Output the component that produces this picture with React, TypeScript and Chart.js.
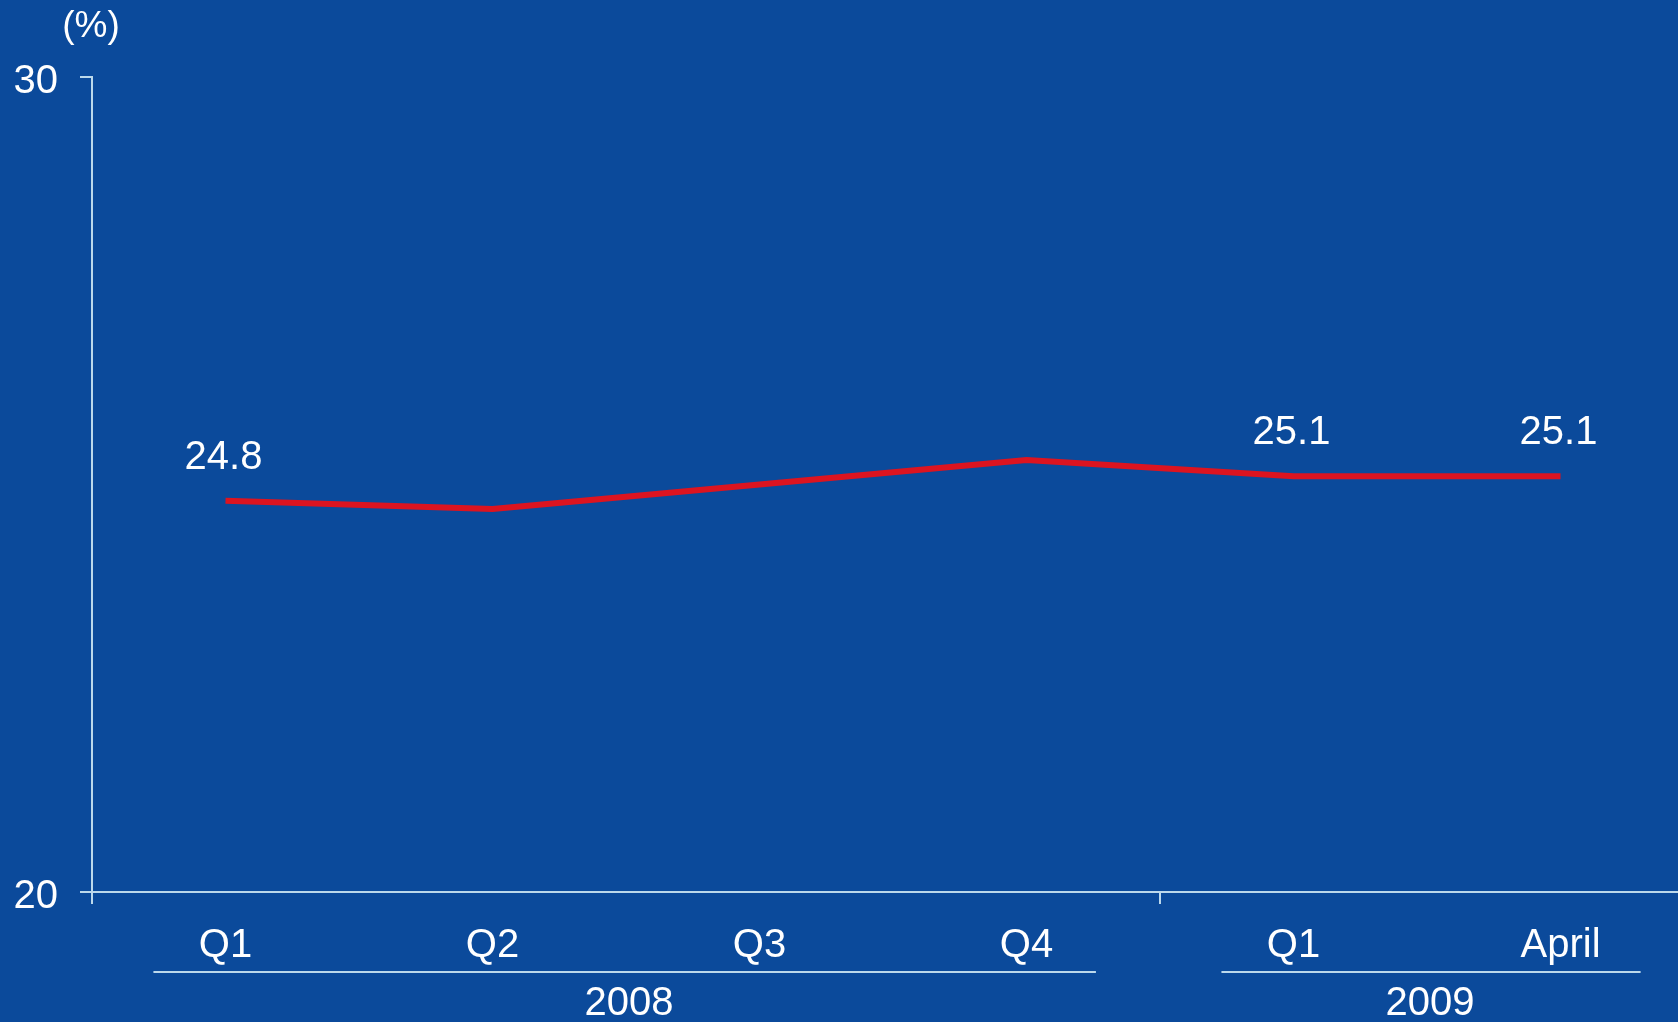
import React, { useEffect, useRef } from "react";
import { Chart, registerables } from "chart.js";

Chart.register(...registerables);

// Quarterly share (%), 2008 Q1 through April 2009
const categories = ["Q1", "Q2", "Q3", "Q4", "Q1", "April"];
const shareValues = [24.8, 24.7, 25.0, 25.3, 25.1, 25.1];
// Points that carry a value label
const labelledPoints = [0, 4, 5];
// Year groups under the category labels (first / last category index)
const yearGroups = [
  { label: "2008", first: 0, last: 3 },
  { label: "2009", first: 4, last: 5 },
];
// Category boundaries that get a tick mark on the x axis
const boundaryTicks = [-0.5, 3.5];
const yTicks = [20, 30];
const unitLabel = "(%)";

const BG = "#0b4a9b";
const AXIS = "#bcd9ec";
const LINE = "#dc1420";
const TEXT = "#ffffff";
const FONT = "'Liberation Sans', Arial, Helvetica, sans-serif";
// how far (in category units) each year underline reaches past its first / last category
const UNDERLINE_START_PAD = [0.27, 0.27];
const UNDERLINE_END_PAD = [0.26, 0.3];

const overlayPlugin = {
  id: "overlay",
  beforeDraw(chart: any) {
    const ctx = chart.ctx;
    ctx.save();
    ctx.fillStyle = BG;
    ctx.fillRect(0, 0, chart.width, chart.height);
    ctx.restore();
  },
  afterDraw(chart: any) {
    const ctx = chart.ctx;
    const xs = chart.scales.x;
    const ys = chart.scales.y;
    const axisY = ys.getPixelForValue(yTicks[0]);
    ctx.save();

    // tick marks at category boundaries
    ctx.strokeStyle = AXIS;
    ctx.lineWidth = 2;
    boundaryTicks.forEach((b) => {
      const px = Math.round(xs.getPixelForValue(b));
      ctx.beginPath();
      ctx.moveTo(px, axisY);
      ctx.lineTo(px, axisY + 12);
      ctx.stroke();
    });

    // unit label above the y axis
    ctx.fillStyle = TEXT;
    ctx.font = `37px ${FONT}`;
    ctx.textAlign = "center";
    ctx.textBaseline = "middle";
    ctx.fillText(unitLabel, xs.left - 1, 27);

    // value labels above selected points
    const meta = chart.getDatasetMeta(0);
    ctx.font = `40px ${FONT}`;
    ctx.textBaseline = "alphabetic";
    labelledPoints.forEach((i) => {
      const pt = meta.data[i];
      ctx.fillText(shareValues[i].toFixed(1), pt.x - 2, pt.y - 32);
    });

    // year groups: underline plus year label
    yearGroups.forEach((g, k) => {
      const x1 = xs.getPixelForValue(g.first - UNDERLINE_START_PAD[k]);
      const x2 = xs.getPixelForValue(g.last + UNDERLINE_END_PAD[k]);
      const lineY = axisY + 80;
      ctx.strokeStyle = AXIS;
      ctx.lineWidth = 2;
      ctx.beginPath();
      ctx.moveTo(x1, lineY);
      ctx.lineTo(x2, lineY);
      ctx.stroke();
      const cx = xs.getPixelForValue((g.first + g.last) / 2);
      ctx.fillStyle = TEXT;
      ctx.fillText(g.label, cx + 3, axisY + 123);
    });

    ctx.restore();
  },
};

export default function App() {
  const canvasRef = useRef<HTMLCanvasElement | null>(null);

  useEffect(() => {
    document.body.style.margin = "0";
    const canvas = canvasRef.current;
    if (!canvas) return;
    const chart = new Chart(canvas, {
      type: "line",
      data: {
        datasets: [
          {
            data: shareValues.map((v, i) => ({ x: i, y: v })),
            borderColor: LINE,
            borderWidth: 6,
            pointRadius: 0,
            tension: 0,
            fill: false,
          },
        ],
      },
      options: {
        responsive: false,
        animation: false,
        devicePixelRatio: 1,
        layout: { padding: { top: 77, left: 0, right: 0, bottom: 0 } },
        plugins: {
          legend: { display: false },
          tooltip: { enabled: false },
        },
        scales: {
          x: {
            type: "linear",
            min: -0.5,
            max: 5.44,
            afterBuildTicks: (scale: any) => {
              scale.ticks = categories.map((_, i) => ({ value: i }));
            },
            afterFit: (scale: any) => {
              scale.height = 130;
            },
            grid: { display: false, drawTicks: false },
            border: { display: true, color: AXIS, width: 2 },
            ticks: {
              autoSkip: false,
              maxRotation: 0,
              padding: 30,
              color: TEXT,
              font: { family: FONT, size: 40 },
              callback: (_v: any, i: number) => categories[i],
            },
          },
          y: {
            type: "linear",
            min: 20,
            max: 30,
            afterBuildTicks: (scale: any) => {
              scale.ticks = yTicks.map((v) => ({ value: v }));
            },
            afterFit: (scale: any) => {
              scale.width = 92;
            },
            grid: {
              drawOnChartArea: false,
              drawTicks: true,
              tickLength: 12,
              color: AXIS,
              lineWidth: 2,
            },
            border: { display: true, color: AXIS, width: 2 },
            ticks: {
              padding: 22,
              labelOffset: 5,
              color: TEXT,
              font: { family: FONT, size: 40 },
            },
          },
        },
      },
      plugins: [overlayPlugin],
    });
    return () => chart.destroy();
  }, []);

  return (
    <div style={{ position: "fixed", left: 0, top: 0, width: 1678, height: 1022, background: BG }}>
      <canvas ref={canvasRef} width={1678} height={1022} style={{ display: "block", width: 1678, height: 1022 }} />
    </div>
  );
}
